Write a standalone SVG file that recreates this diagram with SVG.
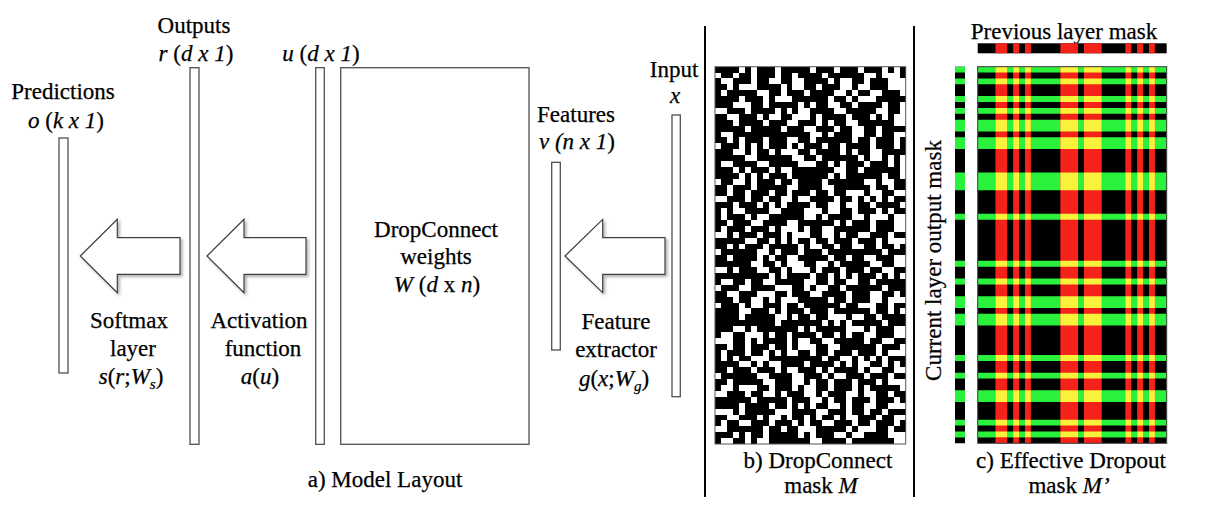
<svg xmlns="http://www.w3.org/2000/svg" width="1208" height="507" viewBox="0 0 1208 507">
<style>
.t{font-family:"Liberation Serif","Times New Roman",Tinos,"DejaVu Serif",serif;font-size:23px;fill:#000;stroke:#000;stroke-width:0.25;text-anchor:middle}
.i{font-style:italic}
.sub{font-size:15px}
.bar{fill:#fff;stroke:#505050;stroke-width:1.3}
.arrow{fill:#fff;stroke:#404040;stroke-width:1.2;filter:url(#sh)}
.sep{stroke:#000;stroke-width:2}
</style>
<defs>
<filter id="sh" x="-20%" y="-20%" width="140%" height="140%">
<feDropShadow dx="2" dy="2" stdDeviation="1.5" flood-color="#000" flood-opacity="0.3"/>
</filter>
<path id="rows" d="M0 0h32v1H0zM0 2h32v1H0zM0 5h32v1H0zM0 7h32v1H0zM0 9h32v2H0zM0 12h32v2H0zM0 18h32v3H0zM0 25h32v1H0zM0 33h32v1H0zM0 36h32v1H0zM0 39h32v2H0zM0 42h32v2H0zM0 49h32v1H0zM0 52h32v1H0zM0 55h32v2H0zM0 60h32v1H0zM0 62h32v1H0z"/>
<path id="cols" d="M3 0h2v64h-2zM6 0h1v64h-1zM8 0h1v64h-1zM14 0h3v64h-3zM18 0h3v64h-3zM25 0h1v64h-1zM27 0h1v64h-1zM29 0h1v64h-1z"/>
<clipPath id="rowsClip"><path d="M0 0h32v1H0zM0 2h32v1H0zM0 5h32v1H0zM0 7h32v1H0zM0 9h32v2H0zM0 12h32v2H0zM0 18h32v3H0zM0 25h32v1H0zM0 33h32v1H0zM0 36h32v1H0zM0 39h32v2H0zM0 42h32v2H0zM0 49h32v1H0zM0 52h32v1H0zM0 55h32v2H0zM0 60h32v1H0zM0 62h32v1H0z"/></clipPath>
</defs>
<rect width="1208" height="507" fill="#fff"/>

<g id="predictions">
<text class="t" x="63" y="99">Predictions</text>
<text class="t" x="66" y="128"><tspan class="i">o</tspan> (<tspan class="i">k x 1</tspan>)</text>
<rect class="bar" x="59" y="138" width="9" height="235"/>
</g>

<g id="outputs">
<text class="t" x="194" y="33">Outputs</text>
<text class="t" x="196" y="61"><tspan class="i">r</tspan> (<tspan class="i">d x 1</tspan>)</text>
<rect class="bar" x="190" y="67.7" width="9" height="376.6"/>
</g>

<g id="u-layer">
<text class="t" x="321" y="61"><tspan class="i">u</tspan> (<tspan class="i">d x 1</tspan>)</text>
<rect class="bar" x="315.7" y="67.7" width="8.6" height="376.6"/>
</g>

<g id="weights">
<rect class="bar" x="340.7" y="67.7" width="188.3" height="376.6"/>
<text class="t" x="436" y="237">DropConnect</text>
<text class="t" x="436" y="264">weights</text>
<text class="t" x="437" y="292"><tspan class="i">W</tspan> (<tspan class="i">d</tspan> x <tspan class="i">n</tspan>)</text>
</g>

<g id="features">
<text class="t" x="576" y="121.7">Features</text>
<text class="t" x="577" y="149.3"><tspan class="i">v (n x 1</tspan>)</text>
<rect class="bar" x="551.7" y="162.3" width="8.6" height="187.7"/>
</g>

<g id="input">
<text class="t" x="674" y="77.3">Input</text>
<text class="t i" x="675" y="103">x</text>
<rect class="bar" x="672" y="115" width="8.3" height="281.7"/>
</g>

<g id="connectors">
<polygon class="arrow" points="80.3,256 117.3,219.3 117.3,237.7 180,237.7 180,274.3 117.3,274.3 117.3,292.7"/>
<polygon class="arrow" points="207,256 244,219.3 244,237.7 306,237.7 306,274.3 244,274.3 244,292.7"/>
<polygon class="arrow" points="565,256 602.7,219.3 602.7,237.7 665,237.7 665,274.3 602.7,274.3 602.7,292.7"/>
</g>

<g id="softmax-label">
<text class="t" x="129" y="328.3">Softmax</text>
<text class="t" x="133" y="355.7">layer</text>
<text class="t" x="131" y="384"><tspan class="i">s</tspan>(<tspan class="i">r</tspan>;<tspan class="i">W</tspan><tspan class="i sub" dy="5">s</tspan><tspan dy="-5">)</tspan></text>
</g>
<g id="activation-label">
<text class="t" x="259" y="328.3">Activation</text>
<text class="t" x="263" y="355.7">function</text>
<text class="t" x="260" y="384"><tspan class="i">a</tspan>(<tspan class="i">u</tspan>)</text>
</g>
<g id="extractor-label">
<text class="t" x="616" y="329.3">Feature</text>
<text class="t" x="616" y="356.7">extractor</text>
<text class="t" x="614" y="386"><tspan class="i">g</tspan>(<tspan class="i">x</tspan>;<tspan class="i">W</tspan><tspan class="i sub" dy="5">g</tspan><tspan dy="-5">)</tspan></text>
</g>

<text class="t" x="385" y="487">a) Model Layout</text>

<g id="separators">
<line class="sep" x1="705" y1="26" x2="705" y2="497"/>
<line class="sep" x1="914" y1="26" x2="914" y2="497"/>
</g>

<g id="mask-b">
<g transform="translate(715,66.7) scale(5.96,5.895)" stroke="#000" stroke-width="1" shape-rendering="crispEdges">
<line x1="0" x2="32" y1="0.5" y2="0.5" stroke-dasharray="3 2 1 1 2 3 4 2 1 3 2 1 3 4"/>
<line x1="0" x2="32" y1="1.5" y2="1.5" stroke-dasharray="0 1 2 1 1 3 2 2 1 1 3 2 4 1 1 2 1 3 2"/>
<line x1="0" x2="32" y1="2.5" y2="2.5" stroke-dasharray="1 2 3 1 2 2 1 4 3 1 1 2 2 1 2 4"/>
<line x1="0" x2="32" y1="3.5" y2="3.5" stroke-dasharray="2 1 1 3 4 1 1 2 2 2 1 3 1 2 3 3 1"/>
<line x1="0" x2="32" y1="4.5" y2="4.5" stroke-dasharray="0 2 1 1 3 2 1 3 2 1 4 2 1 1 2 3 2 1"/>
<line x1="0" x2="32" y1="5.5" y2="5.5" stroke-dasharray="4 1 2 2 1 3 1 1 3 2 2 1 1 3 2 3"/>
<line x1="0" x2="32" y1="6.5" y2="6.5" stroke-dasharray="1 1 1 3 2 1 4 2 1 1 2 3 1 2 3 1 2 1"/>
<line x1="0" x2="32" y1="7.5" y2="7.5" stroke-dasharray="0 3 2 1 3 2 1 1 1 4 2 2 3 1 1 2 2 2"/>
<line x1="0" x2="32" y1="8.5" y2="8.5" stroke-dasharray="2 2 3 1 1 2 2 3 1 1 4 1 2 2 1 1 1 2"/>
<line x1="0" x2="32" y1="9.5" y2="9.5" stroke-dasharray="3 1 1 2 1 1 3 3 2 1 1 2 1 2 4 1 1 2"/>
<line x1="0" x2="32" y1="10.5" y2="10.5" stroke-dasharray="0 1 4 2 1 1 2 3 1 2 3 1 1 3 2 1 2 1 1"/>
<line x1="0" x2="32" y1="11.5" y2="11.5" stroke-dasharray="1 3 2 1 1 2 2 1 3 2 1 1 2 3 1 2 2 2"/>
<line x1="0" x2="32" y1="12.5" y2="12.5" stroke-dasharray="2 1 1 1 3 2 1 3 2 2 1 1 3 1 2 2 1 3"/>
<line x1="0" x2="32" y1="13.5" y2="13.5" stroke-dasharray="0 2 2 1 1 3 3 1 1 2 2 2 1 1 4 1 2 3"/>
<line x1="0" x2="32" y1="14.5" y2="14.5" stroke-dasharray="3 2 1 1 2 1 1 3 2 1 3 2 1 2 1 2 3 1"/>
<line x1="0" x2="32" y1="15.5" y2="15.5" stroke-dasharray="1 1 2 3 1 1 4 2 1 2 2 1 3 1 1 2 1 3"/>
<line x1="0" x2="32" y1="16.5" y2="16.5" stroke-dasharray="0 3 1 1 2 2 3 1 1 3 2 1 1 2 2 1 3 3"/>
<line x1="0" x2="32" y1="17.5" y2="17.5" stroke-dasharray="2 2 1 1 3 1 1 2 4 1 2 3 1 1 1 3 2 1"/>
<line x1="0" x2="32" y1="18.5" y2="18.5" stroke-dasharray="4 1 1 3 2 2 1 1 2 3 1 1 3 2 1 2 1 1"/>
<line x1="0" x2="32" y1="19.5" y2="19.5" stroke-dasharray="0 1 2 2 1 1 3 2 1 1 2 4 1 1 3 2 1 2 2"/>
<line x1="0" x2="32" y1="20.5" y2="20.5" stroke-dasharray="1 2 3 1 1 1 2 3 2 1 1 2 3 2 1 1 2 1 3"/>
<line x1="0" x2="32" y1="21.5" y2="21.5" stroke-dasharray="2 1 1 2 2 3 1 1 3 1 2 2 1 3 1 2 2 2"/>
<line x1="0" x2="32" y1="22.5" y2="22.5" stroke-dasharray="0 2 3 1 2 1 1 3 1 2 4 1 2 1 1 3 1 1 2"/>
<line x1="0" x2="32" y1="23.5" y2="23.5" stroke-dasharray="3 1 2 2 1 1 1 3 2 1 1 3 1 2 2 1 3 2"/>
<line x1="0" x2="32" y1="24.5" y2="24.5" stroke-dasharray="1 1 1 2 4 2 1 1 2 3 1 2 2 1 3 1 1 3"/>
<line x1="0" x2="32" y1="25.5" y2="25.5" stroke-dasharray="0 3 2 1 1 2 3 1 2 2 1 1 4 2 1 3 1 2 1"/>
<line x1="0" x2="32" y1="26.5" y2="26.5" stroke-dasharray="2 2 1 3 1 1 2 2 3 1 1 2 1 1 2 3 2 2"/>
<line x1="0" x2="32" y1="27.5" y2="27.5" stroke-dasharray="1 1 3 1 2 2 1 3 1 1 2 2 4 1 1 2 2 2"/>
<line x1="0" x2="32" y1="28.5" y2="28.5" stroke-dasharray="0 2 1 2 2 1 3 1 1 3 2 2 1 1 2 2 3 1 2"/>
<line x1="0" x2="32" y1="29.5" y2="29.5" stroke-dasharray="3 1 1 2 2 3 1 1 2 1 1 2 3 1 2 2 1 3"/>
<line x1="0" x2="32" y1="30.5" y2="30.5" stroke-dasharray="2 3 1 1 1 2 4 1 1 2 2 1 1 3 2 1 2 2"/>
<line x1="0" x2="32" y1="31.5" y2="31.5" stroke-dasharray="0 1 2 1 3 2 1 1 2 3 1 2 2 1 1 3 2 1 3"/>
<line x1="0" x2="32" y1="32.5" y2="32.5" stroke-dasharray="1 2 2 1 1 3 2 2 1 1 3 1 2 2 1 2 3 2"/>
<line x1="0" x2="32" y1="33.5" y2="33.5" stroke-dasharray="4 1 1 2 2 1 1 3 2 2 1 1 3 1 1 2 2 2"/>
<line x1="0" x2="32" y1="34.5" y2="34.5" stroke-dasharray="0 2 1 1 3 2 2 1 1 3 1 2 2 1 3 1 2 2 2"/>
<line x1="0" x2="32" y1="35.5" y2="35.5" stroke-dasharray="2 1 3 2 1 1 1 2 3 1 2 3 1 1 2 2 1 3"/>
<line x1="0" x2="32" y1="36.5" y2="36.5" stroke-dasharray="1 3 1 1 2 2 3 1 1 2 2 1 1 3 2 1 3 2"/>
<line x1="0" x2="32" y1="37.5" y2="37.5" stroke-dasharray="0 1 3 2 1 1 2 3 2 1 1 2 2 1 3 1 1 2 3"/>
<line x1="0" x2="32" y1="38.5" y2="38.5" stroke-dasharray="2 2 1 1 1 3 2 1 3 2 1 1 2 2 1 3 2 2"/>
<line x1="0" x2="32" y1="39.5" y2="39.5" stroke-dasharray="3 1 2 2 1 1 1 3 2 1 2 2 1 1 3 2 1 3"/>
<line x1="0" x2="32" y1="40.5" y2="40.5" stroke-dasharray="0 2 2 1 1 3 1 2 2 1 3 1 1 2 2 3 1 2 2"/>
<line x1="0" x2="32" y1="41.5" y2="41.5" stroke-dasharray="1 1 2 3 2 1 1 2 1 3 2 1 2 1 3 1 2 3"/>
<line x1="0" x2="32" y1="42.5" y2="42.5" stroke-dasharray="2 3 1 1 3 2 1 1 2 2 1 3 1 2 1 2 3 1"/>
<line x1="0" x2="32" y1="43.5" y2="43.5" stroke-dasharray="0 1 1 2 3 1 2 2 1 1 3 2 1 3 2 1 1 2 3"/>
<line x1="0" x2="32" y1="44.5" y2="44.5" stroke-dasharray="3 2 1 1 2 1 3 2 1 2 1 1 2 3 1 2 2 2"/>
<line x1="0" x2="32" y1="45.5" y2="45.5" stroke-dasharray="1 2 2 3 1 1 2 1 3 2 2 1 1 2 1 3 2 2"/>
<line x1="0" x2="32" y1="46.5" y2="46.5" stroke-dasharray="0 3 2 1 1 2 3 1 1 2 2 3 1 1 2 1 2 2 2"/>
<line x1="0" x2="32" y1="47.5" y2="47.5" stroke-dasharray="2 1 1 2 3 2 1 1 1 3 2 2 1 1 3 2 2 2"/>
<line x1="0" x2="32" y1="48.5" y2="48.5" stroke-dasharray="1 1 3 1 2 3 1 2 2 1 1 2 3 1 2 2 1 3"/>
<line x1="0" x2="32" y1="49.5" y2="49.5" stroke-dasharray="0 2 1 1 2 3 2 1 1 2 3 1 2 2 1 3 1 2 2"/>
<line x1="0" x2="32" y1="50.5" y2="50.5" stroke-dasharray="4 2 1 1 1 3 2 2 1 1 2 3 1 2 2 1 1 2"/>
<line x1="0" x2="32" y1="51.5" y2="51.5" stroke-dasharray="1 3 2 1 3 1 1 2 2 2 1 1 3 2 1 2 2 2"/>
<line x1="0" x2="32" y1="52.5" y2="52.5" stroke-dasharray="0 1 2 2 1 3 1 1 2 2 3 1 1 3 2 1 2 2 2"/>
<line x1="0" x2="32" y1="53.5" y2="53.5" stroke-dasharray="2 1 3 1 1 2 2 3 1 1 2 1 2 2 3 1 1 3"/>
<line x1="0" x2="32" y1="54.5" y2="54.5" stroke-dasharray="1 2 1 3 2 1 3 1 1 2 1 3 2 1 1 2 3 2"/>
<line x1="0" x2="32" y1="55.5" y2="55.5" stroke-dasharray="0 2 3 1 2 2 1 1 3 2 1 1 2 3 1 2 2 1 2"/>
<line x1="0" x2="32" y1="56.5" y2="56.5" stroke-dasharray="3 1 1 2 2 1 1 3 2 2 1 1 2 1 3 2 2 2"/>
<line x1="0" x2="32" y1="57.5" y2="57.5" stroke-dasharray="1 1 2 2 3 1 1 2 1 3 2 2 1 1 2 3 1 3"/>
<line x1="0" x2="32" y1="58.5" y2="58.5" stroke-dasharray="0 3 1 2 1 1 2 3 2 1 1 2 3 1 1 2 2 1 3"/>
<line x1="0" x2="32" y1="59.5" y2="59.5" stroke-dasharray="2 2 3 1 1 2 1 1 2 3 2 1 1 2 3 1 2 2"/>
<line x1="0" x2="32" y1="60.5" y2="60.5" stroke-dasharray="1 1 1 3 2 2 3 1 1 2 1 3 2 1 2 1 2 3"/>
<line x1="0" x2="32" y1="61.5" y2="61.5" stroke-dasharray="0 2 2 1 3 1 1 2 2 3 1 1 2 2 1 3 1 2 2"/>
<line x1="0" x2="32" y1="62.5" y2="62.5" stroke-dasharray="3 1 1 1 2 2 2 3 1 1 3 2 1 2 2 1 1 3"/>
<line x1="0" x2="32" y1="63.5" y2="63.5" stroke-dasharray="1 2 2 1 1 3 2 1 3 2 1 1 2 2 1 2 3 2"/>
<line y1="0" y2="64" x1="0.5" x2="0.5" stroke-dasharray="0 3 2 5 1 4 3 6 2 3 1 5 2 4 3 5 2 6 1 2"/>
<line y1="0" y2="64" x1="1.5" x2="1.5" stroke-dasharray="2 4 1 6 3 3 2 5 1 4 2 6 3 2 1 5 2 4"/>
<line y1="0" y2="64" x1="2.5" x2="2.5" stroke-dasharray="0 5 3 2 1 6 2 3 4 5 1 2 2 6 3 4 1 5 2 3"/>
<line y1="0" y2="64" x1="3.5" x2="3.5" stroke-dasharray="1 3 2 4 3 5 1 6 2 2 3 4 1 5 2 6 3 3"/>
<line y1="0" y2="64" x1="4.5" x2="4.5" stroke-dasharray="0 2 1 4 2 6 3 3 1 5 2 4 2 3 1 6 3 4 2 5"/>
<line y1="0" y2="64" x1="5.5" x2="5.5" stroke-dasharray="3 5 2 3 1 4 2 6 1 3 3 5 2 4 1 6 2 3"/>
<line y1="0" y2="64" x1="6.5" x2="6.5" stroke-dasharray="0 4 2 3 3 5 1 4 2 6 1 3 2 5 3 4 1 3 2 6"/>
<line y1="0" y2="64" x1="7.5" x2="7.5" stroke-dasharray="2 3 1 5 3 4 2 2 1 6 2 4 3 5 1 3 2 4"/>
<line y1="0" y2="64" x1="8.5" x2="8.5" stroke-dasharray="0 1 3 6 2 3 1 4 2 5 3 2 1 6 2 4 3 3 1 5"/>
<line y1="0" y2="64" x1="9.5" x2="9.5" stroke-dasharray="1 5 2 3 3 4 1 6 2 3 2 5 1 4 3 3 2 6"/>
<line y1="0" y2="64" x1="10.5" x2="10.5" stroke-dasharray="0 3 2 4 1 5 3 3 2 6 1 4 2 3 3 5 1 4 2 3"/>
<line y1="0" y2="64" x1="11.5" x2="11.5" stroke-dasharray="2 6 1 3 2 4 3 5 1 3 2 6 1 4 2 3 3 5"/>
<line y1="0" y2="64" x1="12.5" x2="12.5" stroke-dasharray="0 2 3 5 2 4 1 6 3 3 1 5 2 4 2 6 1 3 2 4"/>
<line y1="0" y2="64" x1="13.5" x2="13.5" stroke-dasharray="1 4 2 3 1 5 3 4 2 6 1 3 3 5 2 4 1 6"/>
<line y1="0" y2="64" x1="14.5" x2="14.5" stroke-dasharray="0 5 1 3 2 6 2 4 3 3 1 5 2 4 1 6 3 3 2 4"/>
<line y1="0" y2="64" x1="15.5" x2="15.5" stroke-dasharray="3 3 1 5 2 4 2 6 1 3 3 5 1 4 2 3 2 6"/>
<line y1="0" y2="64" x1="16.5" x2="16.5" stroke-dasharray="0 1 2 4 3 5 1 3 2 6 2 4 1 5 3 3 2 4 1 6"/>
<line y1="0" y2="64" x1="17.5" x2="17.5" stroke-dasharray="2 5 1 4 2 3 3 6 1 4 2 3 1 5 3 4 2 3"/>
<line y1="0" y2="64" x1="18.5" x2="18.5" stroke-dasharray="0 3 3 4 1 6 2 3 2 5 1 4 3 3 2 6 1 4 2 3"/>
<line y1="0" y2="64" x1="19.5" x2="19.5" stroke-dasharray="1 6 2 3 3 4 1 5 2 3 2 6 1 4 3 3 1 5"/>
<line y1="0" y2="64" x1="20.5" x2="20.5" stroke-dasharray="0 2 2 5 1 4 3 3 2 6 1 5 2 3 3 4 1 6 2 3"/>
<line y1="0" y2="64" x1="21.5" x2="21.5" stroke-dasharray="2 4 1 3 3 6 1 4 2 5 2 3 1 6 3 4 2 3"/>
<line y1="0" y2="64" x1="22.5" x2="22.5" stroke-dasharray="0 4 1 5 2 3 3 4 1 6 2 3 2 5 1 4 3 3 2 6"/>
<line y1="0" y2="64" x1="23.5" x2="23.5" stroke-dasharray="3 4 2 6 1 3 2 5 1 4 3 3 2 6 1 5 2 3"/>
<line y1="0" y2="64" x1="24.5" x2="24.5" stroke-dasharray="0 1 2 3 3 5 1 4 2 6 1 3 3 4 2 5 1 6 2 3"/>
<line y1="0" y2="64" x1="25.5" x2="25.5" stroke-dasharray="1 5 3 4 2 3 1 6 2 4 1 5 3 3 2 4 1 6"/>
<line y1="0" y2="64" x1="26.5" x2="26.5" stroke-dasharray="0 3 1 6 2 4 3 3 1 5 2 4 2 6 1 3 3 4 2 5"/>
<line y1="0" y2="64" x1="27.5" x2="27.5" stroke-dasharray="2 3 2 5 1 4 3 6 2 3 1 4 2 5 3 3 1 6"/>
<line y1="0" y2="64" x1="28.5" x2="28.5" stroke-dasharray="0 2 3 4 1 6 2 3 2 5 3 4 1 3 2 6 1 4 2 3"/>
<line y1="0" y2="64" x1="29.5" x2="29.5" stroke-dasharray="1 4 2 5 3 3 1 6 2 4 2 3 1 5 3 4 2 3"/>
<line y1="0" y2="64" x1="30.5" x2="30.5" stroke-dasharray="0 5 2 3 1 4 3 5 2 6 1 3 2 4 3 3 1 6 2 4"/>
<line y1="0" y2="64" x1="31.5" x2="31.5" stroke-dasharray="2 3 1 6 3 4 2 3 1 5 2 4 3 3 1 6 2 4"/>
</g>
<rect x="715" y="66.7" width="190.7" height="377.3" fill="none" stroke="#555" stroke-width="1"/>
<text class="t" x="818" y="468">b) DropConnect</text>
<text class="t" x="821" y="493">mask <tspan class="i">M</tspan></text>
</g>

<g id="mask-c">
<text class="t" x="1064" y="39.3">Previous layer mask</text>
<g transform="translate(977.7,43.3) scale(5.906,0.15625)">
<rect width="32" height="64" fill="#000"/>
<use href="#cols" fill="#f5221a"/>
</g>
<g transform="translate(955,66.7) scale(0.3125,5.884)">
<rect width="32" height="64" fill="#000"/>
<use href="#rows" fill="#2af23c"/>
</g>
<g transform="translate(977.7,66.7) scale(5.906,5.884)">
<rect width="32" height="64" fill="#000"/>
<use href="#rows" fill="#2af23c"/>
<use href="#cols" fill="#f5221a"/>
<use href="#cols" fill="#f8f23c" clip-path="url(#rowsClip)"/>
</g>
<rect x="977.7" y="66.7" width="189" height="376.6" fill="none" stroke="#444" stroke-width="1"/>
<text class="t" transform="translate(941,260.5) rotate(-90)" x="0" y="0">Current layer output mask</text>
<text class="t" x="1071" y="468">c) Effective Dropout</text>
<text class="t" x="1069" y="493">mask <tspan class="i">M’</tspan></text>
</g>
</svg>
